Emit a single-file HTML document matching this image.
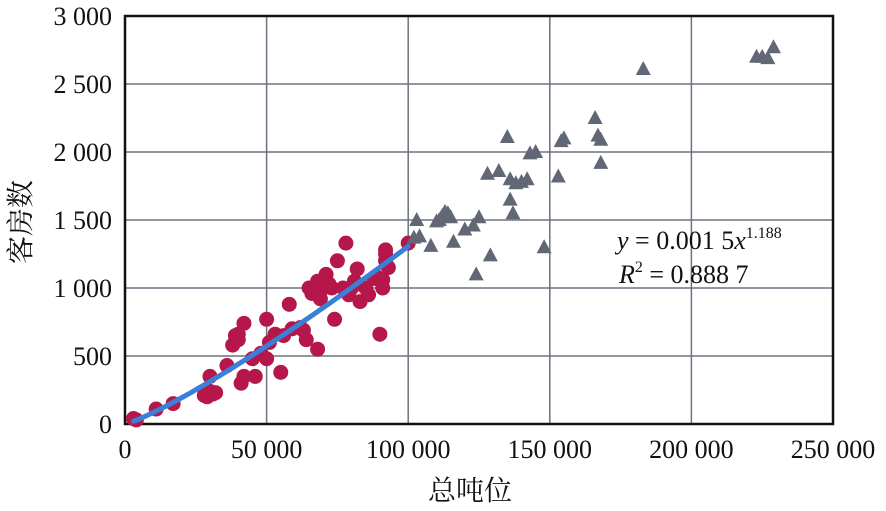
<!DOCTYPE html>
<html><head><meta charset="utf-8"><style>
html,body{margin:0;padding:0;background:#fff;width:886px;height:511px;overflow:hidden}
svg, svg text{font-family:"Liberation Serif","Times New Roman","DejaVu Serif","Noto Serif CJK SC",serif;fill:#111}
</style></head><body>
<svg id="chart" width="886" height="511" xmlns="http://www.w3.org/2000/svg" font-family="Liberation Serif, Noto Serif CJK SC, serif"></svg>
<script>
const xTicks=[0,50000,100000,150000,200000,250000];
const xTickLabels=["0","50 000","100 000","150 000","200 000","250 000"];
const yTicks=[0,500,1000,1500,2000,2500,3000];
const yTickLabels=["0","500","1 000","1 500","2 000","2 500","3 000"];
const redX=[3000,4000,11000,17000,28000,29000,30000,31000,30000,32000,36000,38000,39000,40000,41000,42000,42000,40000,45000,46000,48000,50000,50000,51000,53000,55000,56000,58000,59000,62000,63000,64000,65000,66000,68000,68000,69000,70000,71000,72000,73000,74000,75000,77000,78000,79000,80000,81000,82000,83000,85000,86000,88000,89000,90000,91000,91000,92000,92000,93000,92000,100000];
const redY=[40,30,110,150,210,200,240,220,350,230,430,580,650,620,300,350,740,660,480,350,520,770,480,600,660,380,650,880,700,710,690,620,1000,960,550,1050,920,1000,1100,1030,1000,770,1200,1000,1330,950,1000,1050,1140,900,1000,950,1070,1080,660,1060,1000,1280,1200,1150,1250,1330];
const triX=[102000,103000,104000,108000,110000,111000,112000,113000,114000,115000,116000,120000,123000,124000,125000,128000,129000,132000,136000,135000,136000,137000,138000,140000,142000,143000,145000,148000,153000,154000,155000,166000,167000,168000,168000,183000,223000,225000,227000,229000];
const triY=[1370,1500,1380,1310,1490,1500,1530,1560,1550,1520,1340,1430,1460,1100,1520,1840,1240,1860,1800,2110,1650,1550,1770,1780,1800,1990,2000,1300,1820,2080,2100,2250,2120,2090,1920,2610,2700,2700,2690,2770];
const fitA=0.0015, fitB=1.188, fitX0=3000, fitX1=100000;

const L=125,R=833,T=16,B=424;
const xs=v=>L+(v-0)/250000*(R-L);
const ys=v=>B-(v-0)/3000*(B-T);
const svg=document.getElementById('chart');
const NS='http://www.w3.org/2000/svg';
const FF='Liberation Serif, Times New Roman, DejaVu Serif, Noto Serif CJK SC, serif';
function mk(tag,attrs,parent){const e=document.createElementNS(NS,tag);for(const k in attrs)e.setAttribute(k,attrs[k]);if(tag==='text')e.setAttribute('font-family',FF);(parent||svg).appendChild(e);return e;}

xTicks.forEach((t,i)=>{
  const g=mk('line',{x1:xs(t),x2:xs(t),y1:T,y2:B,stroke:'#6d7280','stroke-width':1.5});
  
  
  const tx=mk('text',{x:xs(t),y:458,'font-size':26,'text-anchor':'middle'});
  tx.textContent=xTickLabels[i];
  
  
});
yTicks.forEach((t,i)=>{
  const g=mk('line',{x1:L,x2:R,y1:ys(t),y2:ys(t),stroke:'#6d7280','stroke-width':1.5});
  
  
  const tx=mk('text',{x:112,y:ys(t)+9,'font-size':26,'text-anchor':'end'});
  tx.textContent=yTickLabels[i];
  
  
});
const frame=mk('rect',{x:L,y:T,width:R-L,height:B-T,fill:'none',stroke:'#111','stroke-width':2.5});



redX.forEach((v,i)=>{
  const c=mk('circle',{cx:xs(v),cy:ys(redY[i]),r:7.5,fill:'#b5174a'});
  
  
});
triX.forEach((v,i)=>{
  const x=xs(v),y=ys(triY[i]);
  const p=mk('polygon',{points:`${x},${y-8} ${x-7.5},${y+6} ${x+7.5},${y+6}`,fill:'#626776'});
  
  
});
let d='';
for(let i=0;i<=60;i++){const x=fitX0+(fitX1-fitX0)*i/60;const y=fitA*Math.pow(x,fitB);d+=(i?'L':'M')+xs(x).toFixed(1)+','+ys(y).toFixed(1);}
const fl=mk('path',{d:d,fill:'none',stroke:'#3a7fd8','stroke-width':5,'stroke-linecap':'round'});



const eq=mk('text',{x:617,y:249,'font-size':26});


eq.innerHTML='<tspan font-style="italic">y</tspan> = 0.001 5<tspan font-style="italic">x</tspan><tspan font-size="16" dy="-11">1.188</tspan>';
const r2=mk('text',{x:619,y:283,'font-size':26});


r2.innerHTML='<tspan font-style="italic">R</tspan><tspan font-size="16" dy="-11">2</tspan><tspan dy="11"> = 0.888 7</tspan>';

const xt=mk('text',{x:470,y:500,'font-size':28,'text-anchor':'middle'});
xt.textContent='总吨位';


const yt=mk('text',{x:0,y:0,'font-size':28,'text-anchor':'middle',transform:'translate(30,222) rotate(-90)'});
yt.textContent='客房数';


</script>
</body></html>
